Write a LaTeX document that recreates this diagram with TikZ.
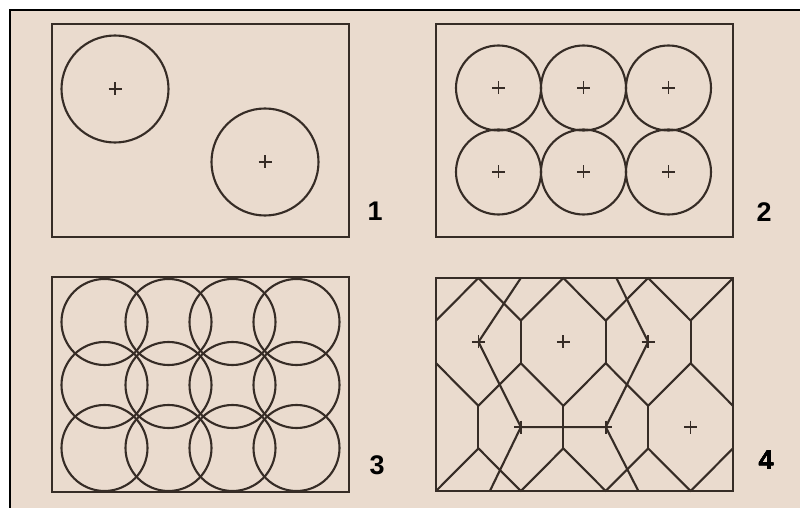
\documentclass[tikz,border=0pt]{standalone}
\usepackage{fontspec}
\setmainfont{Liberation Sans}
\definecolor{pnbg}{HTML}{EADBCE}
\definecolor{pnline}{HTML}{362C26}
\tikzset{
  panel/.style={draw=pnline,line width=2.3pt},
  ring/.style={draw=pnline,line width=1.8pt},
  cell/.style={draw=pnline,line width=1.8pt,line join=round},
  seedmark/.style={draw=pnline,line width=1.5pt},
  num/.style={font=\fontsize{23}{23}\selectfont\bfseries,inner sep=0pt},
}
\newcommand{\seedat}[2]{\draw[seedmark] ({#1-6.5},#2)--({#1+6.5},#2) (#1,{#2-6.5})--(#1,{#2+6.5});}

\begin{document}
\begin{tikzpicture}[x=0.03cm,y=-0.03cm]
  \useasboundingbox (0,0) rectangle (800,508);
  \fill[pnbg] (10,10) rectangle (800,508);
  \draw[black,line width=1.7pt] (10,508)--(10,10)--(800,10);

  \draw[panel] (52,24) rectangle (349,237);
  \foreach \cx/\cy in {115/89,265/162}{
    \draw[ring] (\cx,\cy) circle[radius=53.5];
    \seedat{\cx}{\cy}
  }
  \node[num] (n1) at (375,211) {1};

  \draw[panel] (436,24) rectangle (733,237);
  \foreach \cx in {498.5,583.5,668.5}
    \foreach \cy in {88,172}{
      \draw[ring] (\cx,\cy) circle[radius=42.5];
      \seedat{\cx}{\cy}
    }
  \node[num] (n2) at (764,212) {2};

  \draw[panel] (52,277) rectangle (349,492);
  \foreach \cx in {104.5,168.5,232.5,296.5}
    \foreach \cy in {322,385,448}
      \draw[ring] (\cx,\cy) circle[radius=43];
  \node[num] (n3) at (377,465) {3};

  \draw[panel] (436,278) rectangle (733,491);
  \begin{scope}[shift={(436,278)},x=1.2729cm,y=-1.278cm]
    \draw[cell] (0,1)--(1,0)--(2,1)--(3,0)--(4,1)--(5,0)--(6,1)--(7,0);
    \draw[cell] (2,1)--(2,2) (4,1)--(4,2) (6,1)--(6,2);
    \draw[cell] (0,2)--(1,3)--(2,2)--(3,3)--(4,2)--(5,3)--(6,2)--(7,3);
    \draw[cell] (1,3)--(1,4) (3,3)--(3,4) (5,3)--(5,4);
    \draw[cell] (0,5)--(1,4)--(2,5)--(3,4)--(4,5)--(5,4)--(6,5)--(7,4);
    \draw[cell] (2,0)--(1,1.5)--(2,3.5)--(4,3.5)--(5,1.5)--(4.25,0);
    \draw[cell] (2,3.5)--(1.27,5) (4,3.5)--(4.77,5);
  \end{scope}
  \foreach \cx/\cy in {478.4/341.9,563.3/341.9,648.2/341.9,520.9/427.1,605.7/427.1,690.6/427.1}
    \seedat{\cx}{\cy}
  \node[num] (n4) at (766,460) {4};
\end{tikzpicture}
\end{document}
